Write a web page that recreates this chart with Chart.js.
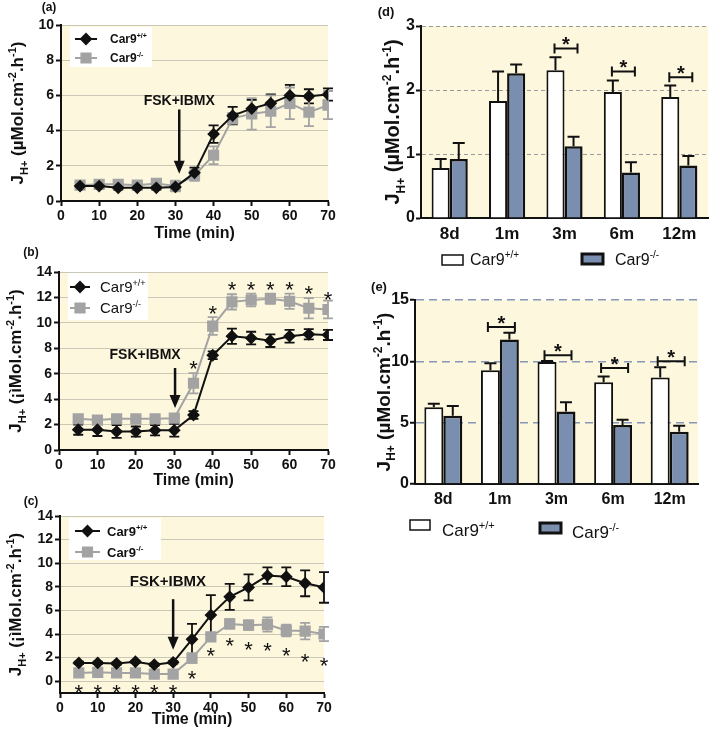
<!DOCTYPE html>
<html>
<head>
    <title>Car9 proton flux</title>
    <style>
        body { margin: 0; background: #fff; }
        canvas { position: absolute; }
    </style>
</head>
<body>
    <canvas id="chartA" width="345" height="246" style="left:0;top:0"></canvas>
    <canvas id="chartB" width="345" height="252" style="left:0;top:240px"></canvas>
    <canvas id="chartC" width="345" height="246" style="left:0;top:490px"></canvas>
    <canvas id="chartD" width="354" height="280" style="left:355px;top:0"></canvas>
    <canvas id="chartE" width="354" height="265" style="left:355px;top:280px"></canvas>

    <script src="https://cdn.jsdelivr.net/npm/chart.js"></script>
    <script>
        // ---- data ----
        const times = [5, 10, 15, 20, 25, 30, 35, 40, 45, 50, 55, 60, 65, 70];

        // (a)
        const aWt    = [0.85, 0.85, 0.75, 0.75, 0.75, 0.8, 1.6, 3.8, 4.85, 5.25, 5.55, 6.0, 5.95, 6.05];
        const aWtErr = [0.1, 0.15, 0.1, 0.1, 0.1, 0.1, 0.3, 0.5, 0.5, 0.5, 0.5, 0.6, 0.4, 0.35];
        const aKo    = [0.9, 0.95, 0.95, 0.9, 1.0, 0.85, 1.45, 2.6, 4.7, 4.95, 5.1, 5.55, 5.05, 5.45];
        const aKoErr = [0.1, 0.2, 0.1, 0.1, 0.2, 0.3, 0.3, 0.5, 0.3, 0.9, 0.9, 0.9, 0.8, 0.8];

        // (b)
        const bWt    = [1.6, 1.6, 1.45, 1.45, 1.55, 1.55, 2.75, 7.45, 8.95, 8.8, 8.6, 8.95, 9.1, 9.05];
        const bWtErr = [0.4, 0.5, 0.5, 0.4, 0.4, 0.5, 0.3, 0.3, 0.6, 0.5, 0.5, 0.5, 0.4, 0.4];
        const bKo    = [2.45, 2.35, 2.45, 2.45, 2.45, 2.5, 5.25, 9.75, 11.65, 11.8, 11.9, 11.7, 11.15, 11.05];
        const bKoErr = [0.2, 0.1, 0.1, 0.1, 0.1, 0.1, 0.8, 0.7, 0.6, 0.5, 0.4, 0.6, 0.8, 0.7];
        const bStars = [null, null, null, null, null, null, 6.85, 11.2, 13.1, 13.1, 13.1, 13.1, 12.75, 12.3];

        // (c)
        const cWt    = [1.55, 1.55, 1.5, 1.65, 1.4, 1.6, 3.55, 5.6, 7.15, 7.95, 8.95, 8.85, 8.3, 7.95];
        const cWtErr = [0.1, 0.1, 0.1, 0.1, 0.1, 0.1, 1.3, 1.7, 1.1, 1.1, 0.7, 0.8, 1.1, 1.3];
        const cKo    = [0.7, 0.75, 0.7, 0.7, 0.6, 0.6, 1.95, 3.75, 4.85, 4.75, 4.8, 4.3, 4.25, 4.0];
        const cKoErr = [0.1, 0.1, 0.1, 0.1, 0.1, 0.1, 0.4, 0.3, 0.4, 0.4, 0.6, 0.5, 0.7, 0.6];
        const cStars = [-0.45, -0.45, -0.45, -0.45, -0.45, -0.45, 0.7, 2.65, 3.5, 3.2, 3.1, 2.65, 2.15, 1.8];

        // y tick labels of the time courses
        const abTicks = [0, 2, 4, 6, 8, 10, 12, 14];

        // (d) and (e)
        const ages   = ['8d', '1m', '3m', '6m', '12m'];
        const dWt    = [0.78, 1.83, 2.31, 1.97, 1.89];
        const dWtErr = [0.14, 0.46, 0.2, 0.18, 0.18];
        const dKo    = [0.92, 2.26, 1.12, 0.71, 0.82];
        const dKoErr = [0.25, 0.14, 0.15, 0.16, 0.15];
        const dSig   = [null, null, 2.65, 2.29, 2.2];

        const eWt    = [6.25, 9.28, 9.95, 8.3, 8.68];
        const eWtErr = [0.3, 0.57, 0.08, 0.46, 0.84];
        const eKo    = [5.56, 11.77, 5.91, 4.8, 4.26];
        const eKoErr = [0.8, 0.57, 0.76, 0.43, 0.49];
        const eSig   = [null, 12.8, 10.5, 9.45, 10.0];

        // ---- styles ----
        const FONT = '"Liberation Sans", Arial, sans-serif';
        const INK = '#111111';
        const GRAY = '#a3a3a3';
        const CREAM = '#fdf7de';
        const BLUE = '#7a8eb0';

        function fontStr(p) {
            return (p.b ? 'bold ' : '') + p.s + 'px ' + FONT;
        }

        // draws text made of pieces with their own size / offset (sub and superscripts)
        function drawRich(ctx, parts, x, y, align) {
            let w = 0;
            parts.forEach(p => { ctx.font = fontStr(p); w += ctx.measureText(p.t).width; });
            let cx = align === 'center' ? x - w / 2 : x;
            ctx.textAlign = 'left';
            ctx.textBaseline = 'alphabetic';
            parts.forEach(p => {
                ctx.font = fontStr(p);
                ctx.fillText(p.t, cx, y + (p.dy || 0));
                cx += ctx.measureText(p.t).width;
            });
        }

        function yTitleParts(s, mu) {
            const sm = Math.round(s * 0.62);
            return [
                { t: 'J', s: s, b: true },
                { t: 'H+', s: sm, b: true, dy: s * 0.28 },
                { t: ' (' + mu + 'Mol.cm', s: s, b: true },
                { t: '-2', s: sm, b: true, dy: -s * 0.42 },
                { t: '.h', s: s, b: true },
                { t: '-1', s: sm, b: true, dy: -s * 0.42 },
                { t: ')', s: s, b: true }
            ];
        }

        function keyParts(sup, s, bold) {
            return [
                { t: 'Car9', s: s, b: bold },
                { t: sup, s: Math.round(s * 0.62), b: bold, dy: -s * 0.42 }
            ];
        }

        function drawStar(ctx, x, yc, size, bold) {
            ctx.font = (bold ? 'bold ' : '') + size + 'px ' + FONT;
            ctx.textAlign = 'center';
            ctx.textBaseline = 'alphabetic';
            ctx.fillText('*', x, yc + size * 0.6);
        }

        function drawErrors(chart) {
            const ctx = chart.ctx;
            const ys = chart.scales.y;
            chart.data.datasets.forEach((ds, di) => {
                if (!ds.errors) return;
                const meta = chart.getDatasetMeta(di);
                ctx.save();
                ctx.strokeStyle = ds.errColor;
                ctx.lineWidth = ds.errWidth;
                meta.data.forEach((el, i) => {
                    const v = meta.controller.getParsed(i).y;
                    const e = ds.errors[i];
                    const top = ys.getPixelForValue(v + e);
                    const bot = ds.errBoth ? ys.getPixelForValue(v - e) : el.y;
                    const cap = ds.errCap;
                    ctx.beginPath();
                    ctx.moveTo(el.x, bot); ctx.lineTo(el.x, top);
                    ctx.moveTo(el.x - cap, top); ctx.lineTo(el.x + cap, top);
                    if (ds.errBoth) { ctx.moveTo(el.x - cap, bot); ctx.lineTo(el.x + cap, bot); }
                    ctx.stroke();
                });
                ctx.restore();
            });
        }

        const deco = {
            id: 'deco',
            beforeDraw(chart) {
                const { ctx, chartArea: a } = chart;
                ctx.save();
                ctx.fillStyle = CREAM;
                ctx.fillRect(a.left, a.top, a.right - a.left, a.bottom - a.top);
                ctx.restore();
            },
            beforeDatasetsDraw(chart, args, o) {
                if (o.errBehind) drawErrors(chart);
            },
            afterDatasetsDraw(chart, args, o) {
                if (!o.errBehind) drawErrors(chart);
            },
            afterDraw(chart, args, o) {
                const { ctx, chartArea: a } = chart;
                const xs = chart.scales.x, ys = chart.scales.y;
                ctx.save();
                ctx.fillStyle = INK;
                ctx.strokeStyle = INK;

                // panel letter
                ctx.font = 'bold ' + o.label.size + 'px ' + FONT;
                ctx.textAlign = 'center';
                ctx.textBaseline = 'middle';
                ctx.fillText(o.label.text, o.label.x, o.label.y);

                // rotated y title
                ctx.save();
                ctx.translate(o.ytitle.x, (a.top + a.bottom) / 2);
                ctx.rotate(-Math.PI / 2);
                drawRich(ctx, yTitleParts(o.ytitle.size, o.ytitle.mu), 0, o.ytitle.size * 0.36, 'center');
                ctx.restore();

                // legend for the time courses
                if (o.lineKey) {
                    const L = o.lineKey;
                    ctx.fillStyle = '#ffffff';
                    ctx.fillRect(L.box[0], L.box[1], L.box[2], L.box[3]);
                    L.rows.forEach((ry, k) => {
                        const ds = chart.data.datasets[k];
                        ctx.strokeStyle = ds.borderColor;
                        ctx.fillStyle = ds.borderColor;
                        ctx.lineWidth = 2;
                        ctx.beginPath(); ctx.moveTo(L.x0, ry); ctx.lineTo(L.x1, ry); ctx.stroke();
                        Chart.helpers.drawPoint(ctx, { pointStyle: ds.pointStyle, radius: ds.pointRadius, borderWidth: 1 }, (L.x0 + L.x1) / 2, ry);
                        ctx.fillStyle = INK;
                        drawRich(ctx, keyParts(k === 0 ? '+/+' : '-/-', L.size, L.bold), L.tx, ry + L.size * 0.36, 'left');
                    });
                }

                // legend for the bar panels
                if (o.barKey) {
                    const K = o.barKey;
                    K.items.forEach((it, k) => {
                        const ds = chart.data.datasets[k];
                        ctx.fillStyle = ds.backgroundColor;
                        ctx.strokeStyle = INK;
                        ctx.lineWidth = k === 0 ? 1.5 : 3;
                        ctx.fillRect(it.x, it.y, it.w, it.h);
                        ctx.strokeRect(it.x, it.y, it.w, it.h);
                        ctx.fillStyle = INK;
                        drawRich(ctx, keyParts(k === 0 ? '+/+' : '-/-', K.size, false), it.tx, it.ty, 'left');
                    });
                }

                // FSK+IBMX arrow
                if (o.arrow) {
                    const A = o.arrow;
                    const ax = xs.getPixelForValue(A.x);
                    const y0 = ys.getPixelForValue(A.y0);
                    const y1 = ys.getPixelForValue(A.y1);
                    ctx.fillStyle = INK;
                    ctx.strokeStyle = INK;
                    ctx.lineWidth = 2.5;
                    ctx.beginPath(); ctx.moveTo(ax, y0); ctx.lineTo(ax, y1 - 10); ctx.stroke();
                    ctx.beginPath();
                    ctx.moveTo(ax - 5.5, y1 - 13); ctx.lineTo(ax + 5.5, y1 - 13); ctx.lineTo(ax, y1);
                    ctx.closePath(); ctx.fill();
                    ctx.font = 'bold ' + A.size + 'px ' + FONT;
                    ctx.textAlign = 'center';
                    ctx.textBaseline = 'middle';
                    ctx.fillText('FSK+IBMX', xs.getPixelForValue(A.lx), ys.getPixelForValue(A.ly));
                }

                // stars on the time courses
                if (o.stars) {
                    ctx.fillStyle = INK;
                    o.stars.forEach((v, i) => {
                        if (v === null) return;
                        drawStar(ctx, xs.getPixelForValue(times[i]), ys.getPixelForValue(v), o.starSize, false);
                    });
                }

                // significance brackets on the bar panels
                if (o.sig) {
                    ctx.fillStyle = INK;
                    ctx.strokeStyle = INK;
                    ctx.lineWidth = 2;
                    o.sig.forEach((v, i) => {
                        if (v === null) return;
                        const c = xs.getPixelForValue(i);
                        const l = c + o.sigSpan[0], r = c + o.sigSpan[1];
                        const y = ys.getPixelForValue(v);
                        ctx.beginPath();
                        ctx.moveTo(l, y); ctx.lineTo(r, y);
                        ctx.moveTo(l, y - 5); ctx.lineTo(l, y + 5);
                        ctx.moveTo(r, y - 5); ctx.lineTo(r, y + 5);
                        ctx.stroke();
                        drawStar(ctx, (l + r) / 2, y - 9, o.starSize, true);
                    });
                }
                ctx.restore();
            }
        };

        function makeLine(id, p) {
            const pts = arr => times.map((t, i) => ({ x: t, y: arr[i] }));
            return new Chart(document.getElementById(id), {
                type: 'line',
                data: {
                    datasets: [{
                        data: pts(p.wt), errors: p.wtErr, errBoth: true, errCap: 5, errWidth: 1.8, errColor: INK,
                        borderColor: INK, backgroundColor: INK, borderWidth: 2,
                        pointStyle: 'rectRot', pointRadius: 5, tension: 0
                    }, {
                        data: pts(p.ko), errors: p.koErr, errBoth: true, errCap: 5, errWidth: 1.8, errColor: GRAY,
                        borderColor: GRAY, backgroundColor: GRAY, borderWidth: 2,
                        pointStyle: 'rect', pointRadius: 6.5, tension: 0
                    }]
                },
                options: {
                    responsive: false,
                    animation: false,
                    events: [],
                    layout: { padding: { top: p.padTop, right: p.padRight, left: 0, bottom: 0 } },
                    scales: {
                        x: {
                            type: 'linear', min: 0, max: 70,
                            ticks: { stepSize: 10, color: INK, padding: 2, maxRotation: 0, font: { family: FONT, size: 14, weight: 'bold' } },
                            grid: { drawOnChartArea: false, tickColor: INK, tickLength: 5, tickWidth: 2 },
                            border: { color: INK, width: 2 },
                            title: { display: true, text: 'Time (min)', color: INK, font: { family: FONT, size: 16, weight: 'bold' }, padding: { top: 0, bottom: p.titlePad } },
                            afterFit: s => { s.height = p.xh; }
                        },
                        y: {
                            min: p.yMin, max: p.yMax,
                            ticks: { color: INK, padding: 2, font: { family: FONT, size: 14, weight: 'bold' } },
                            grid: { color: '#cbc7b6', lineWidth: 1, tickColor: INK, tickLength: 5, tickWidth: 2 },
                            border: { color: INK, width: 2 },
                            afterBuildTicks: s => { s.ticks = abTicks.filter(v => v <= p.yMax).map(v => ({ value: v })); },
                            afterFit: s => { s.width = p.yw; }
                        }
                    },
                    plugins: {
                        legend: { display: false },
                        tooltip: { enabled: false },
                        deco: p.deco
                    }
                },
                plugins: [deco]
            });
        }

        function makeBar(id, p) {
            return new Chart(document.getElementById(id), {
                type: 'bar',
                data: {
                    labels: ages,
                    datasets: [{
                        data: p.wt, errors: p.wtErr, errBoth: false, errCap: 6, errWidth: 2, errColor: INK,
                        backgroundColor: '#ffffff', borderColor: INK, borderWidth: 2
                    }, {
                        data: p.ko, errors: p.koErr, errBoth: false, errCap: 6, errWidth: 2, errColor: INK,
                        backgroundColor: BLUE, borderColor: INK, borderWidth: 2.5
                    }]
                },
                options: {
                    responsive: false,
                    animation: false,
                    events: [],
                    layout: { padding: { top: p.padTop, right: p.padRight, left: 0, bottom: 0 } },
                    datasets: { bar: { barPercentage: 1, categoryPercentage: p.catPct } },
                    scales: {
                        x: {
                            ticks: { color: INK, padding: p.xPad, font: { family: FONT, size: p.xFont, weight: 'bold' } },
                            grid: { display: false, drawTicks: false, tickLength: 0 },
                            border: { color: INK, width: 2 },
                            afterFit: s => { s.height = p.xh; }
                        },
                        y: {
                            min: 0, max: p.yMax,
                            ticks: { stepSize: p.yStep, color: INK, padding: 1, font: { family: FONT, size: p.yFont, weight: 'bold' } },
                            grid: { color: p.dashColor, lineWidth: p.dashWidth, tickColor: INK, tickLength: 5, tickWidth: 2 },
                            border: { color: INK, width: 2, dash: p.dash },
                            afterFit: s => { s.width = p.yw; }
                        }
                    },
                    plugins: {
                        legend: { display: false },
                        tooltip: { enabled: false },
                        deco: p.deco
                    }
                },
                plugins: [deco]
            });
        }

        makeLine('chartA', {
            wt: aWt, wtErr: aWtErr, ko: aKo, koErr: aKoErr,
            yMin: 0, yMax: 10, yw: 61, xh: 45, padTop: 25, padRight: 17, titlePad: 3,
            deco: {
                errBehind: true,
                label: { text: '(a)', x: 49, y: 8, size: 12 },
                ytitle: { x: 17, size: 17, mu: 'µ' },
                lineKey: { box: [70, 27, 82, 40], rows: [39, 58], x0: 75, x1: 97, tx: 110, size: 12, bold: true },
                arrow: { x: 31, y0: 5.2, y1: 1.55, lx: 31, ly: 5.65, size: 14 }
            }
        });

        makeLine('chartB', {
            wt: bWt, wtErr: bWtErr, ko: bKo, koErr: bKoErr,
            yMin: 0, yMax: 14, yw: 59, xh: 42, padTop: 32, padRight: 17, titlePad: 2,
            deco: {
                errBehind: true,
                label: { text: '(b)', x: 31, y: 13, size: 12 },
                ytitle: { x: 15, size: 17, mu: '¡ì' },
                lineKey: { box: [68, 33, 80, 47], rows: [47, 68], x0: 70, x1: 90, tx: 100, size: 15, bold: false },
                arrow: { x: 30.2, y0: 6.45, y1: 3.3, lx: 22.4, ly: 7.5, size: 14 },
                stars: bStars, starSize: 22
            }
        });

        makeLine('chartC', {
            wt: cWt, wtErr: cWtErr, ko: cKo, koErr: cKoErr,
            yMin: -1, yMax: 14, yw: 60, xh: 43, padTop: 26, padRight: 21, titlePad: 7,
            deco: {
                errBehind: true,
                label: { text: '(c)', x: 31, y: 12, size: 12 },
                ytitle: { x: 15, size: 17, mu: '¡ì' },
                lineKey: { box: [69, 28, 92, 42], rows: [41, 62], x0: 75, x1: 100, tx: 107, size: 13, bold: true },
                arrow: { x: 30, y0: 6.95, y1: 2.66, lx: 28.6, ly: 8.4, size: 15 },
                stars: cStars, starSize: 22
            }
        });

        makeBar('chartD', {
            wt: dWt, wtErr: dWtErr, ko: dKo, koErr: dKoErr,
            yMax: 3, yStep: 1, yw: 66, xh: 62, padTop: 26, padRight: 1, catPct: 0.63,
            xFont: 17, xPad: 6, yFont: 16, dash: [4, 3], dashColor: '#9a9a9a', dashWidth: 1,
            deco: {
                errBehind: false,
                label: { text: '(d)', x: 31, y: 12, size: 13 },
                ytitle: { x: 37, size: 20, mu: 'µ' },
                barKey: { size: 16, items: [
                    { x: 87, y: 255, w: 21, h: 10, tx: 115, ty: 265 },
                    { x: 227, y: 254, w: 21, h: 10, tx: 260, ty: 265 }
                ] },
                sig: dSig, sigSpan: [-10, 13], starSize: 20
            }
        });

        makeBar('chartE', {
            wt: eWt, wtErr: eWtErr, ko: eKo, koErr: eKoErr,
            yMax: 15, yStep: 5, yw: 60, xh: 61, padTop: 20, padRight: 11, catPct: 0.67,
            xFont: 16, xPad: 6, yFont: 16, dash: [8, 5], dashColor: '#8697b8', dashWidth: 1.5,
            deco: {
                errBehind: false,
                label: { text: '(e)', x: 24, y: 7, size: 13 },
                ytitle: { x: 28, size: 19, mu: 'µ' },
                barKey: { size: 17, items: [
                    { x: 55, y: 240, w: 20, h: 10, tx: 87, ty: 256 },
                    { x: 185, y: 243, w: 21, h: 10, tx: 217, ty: 258 }
                ] },
                sig: eSig, sigSpan: [-12, 15], starSize: 20
            }
        });
    </script>
</body>
</html>
